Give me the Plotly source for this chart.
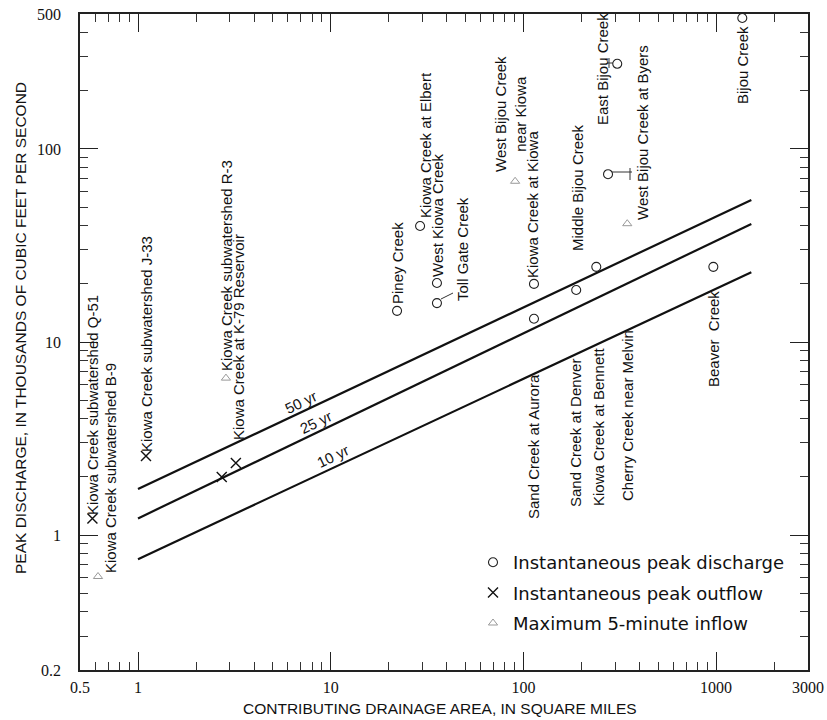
import math
import plotly.graph_objects as go

# ---------------- data ----------------
# Instantaneous peak discharge (open circles)
discharge_area = [22.1, 35.6, 35.6, 29.1, 113.5, 113.5, 188, 239, 968, 275, 307, 1368]
discharge_peak = [14.5, 20.2, 15.9, 39.9, 20.0, 13.2, 18.6, 24.5, 24.5, 74, 276, 477]

# Instantaneous peak outflow (x)
outflow_area = [0.58, 1.10, 2.72, 3.22]
outflow_peak = [1.22, 2.57, 2.0, 2.36]

# Maximum 5-minute inflow (triangles)
inflow_area = [0.62, 2.86, 90.6, 346]
inflow_peak = [0.61, 6.5, 68, 41]

# Regional flood-frequency lines
line_area = [1, 1524]
line_50yr = [1.73, 54.4]
line_25yr = [1.22, 40.9]
line_10yr = [0.75, 23.0]

x_tick_vals = [0.5, 1, 10, 100, 1000, 3000]
x_tick_text = ["0.5", "1", "10", "100", "1000", "3000"]
y_tick_vals = [0.2, 1, 10, 100, 500]
y_tick_text = ["0.2", "1", "10", "100", "500"]

station_labels = [
    "Kiowa Creek subwatershed Q-51", "Kiowa Creek subwatershed B-9",
    "Kiowa Creek subwatershed J-33", "Kiowa Creek subwatershed R-3",
    "Kiowa Creek at K-79 Reservoir", "Piney Creek", "West Kiowa Creek",
    "Kiowa Creek at Elbert", "Toll Gate Creek", "West Bijou Creek<br>near Kiowa",
    "Kiowa Creek at Kiowa", "Middle Bijou Creek", "East Bijou Creek",
    "West Bijou Creek at Byers", "Bijou Creek", "Sand Creek at Aurora",
    "Sand Creek at Denver", "Kiowa Creek at Bennett", "Cherry Creek near Melvin",
    "Beaver  Creek",
]
curve_labels = ["50 yr", "25 yr", "10 yr"]

# ---------------- layout helpers (pixel -> paper) ----------------
W, H = 827, 720
ML, MR, MT, MB = 80, 19, 14, 50
PW, PH = W - ML - MR, H - MT - MB


def paper(px, py):
    return (px - ML) / PW, (H - MB - py) / PH


label_pos = [
    (93, 405), (110, 468), (146, 344), (226, 266), (238, 337),
    (397, 263), (437, 215), (425, 145), (462, 249), (510, 114),
    (532, 205), (577, 188), (602, 69), (642, 133), (742, 65),
    (533, 447), (575, 433), (598, 427), (627, 416), (713, 339),
]
curve_label_pos = [(300, 402), (315, 422), (332, 456)]

LABEL_FONT = dict(family="Liberation Sans, Arial, sans-serif", size=15, color="#111")

fig = go.Figure()

for name, ys in (("50 yr", line_50yr), ("25 yr", line_25yr), ("10 yr", line_10yr)):
    fig.add_trace(go.Scatter(x=line_area, y=ys, mode="lines", showlegend=False,
                             line=dict(color="#111", width=2.2), hoverinfo="skip", name=name))

fig.add_trace(go.Scatter(x=discharge_area, y=discharge_peak, mode="markers",
                         name="Instantaneous peak discharge", legendgroup="a",
                         marker=dict(symbol="circle-open", size=9, color="#222",
                                     line=dict(width=1.1))))
fig.add_trace(go.Scatter(x=outflow_area, y=outflow_peak, mode="markers",
                         name="Instantaneous peak outflow", legendgroup="b",
                         marker=dict(symbol="x-thin-open", size=10, color="#111",
                                     line=dict(width=1.4))))
fig.add_trace(go.Scatter(x=inflow_area, y=inflow_peak, mode="markers",
                         name="Maximum 5-minute inflow", legendgroup="c",
                         marker=dict(symbol="triangle-up-open", size=8, color="#999",
                                     line=dict(width=1))))

annotations = []
for txt, (px, py) in zip(station_labels, label_pos):
    ax, ay = paper(px, py)
    annotations.append(dict(x=ax, y=ay, xref="paper", yref="paper", text=txt,
                            textangle=-90, showarrow=False, font=LABEL_FONT,
                            xanchor="center", yanchor="middle"))
for txt, (px, py) in zip(curve_labels, curve_label_pos):
    ax, ay = paper(px, py)
    annotations.append(dict(x=ax, y=ay, xref="paper", yref="paper", text=txt,
                            textangle=-25.5, showarrow=False, font=LABEL_FONT,
                            xanchor="center", yanchor="middle"))

TITLE_FONT = dict(family="Liberation Sans, Arial, sans-serif", size=15.5, color="#111")
ax_, ay_ = paper(440, 708)
annotations.append(dict(x=ax_, y=ay_, xref="paper", yref="paper",
                        text="CONTRIBUTING DRAINAGE AREA, IN SQUARE MILES",
                        showarrow=False, font=TITLE_FONT, xanchor="center", yanchor="middle"))
ax_, ay_ = paper(20, 328)
annotations.append(dict(x=ax_, y=ay_, xref="paper", yref="paper",
                        text="PEAK DISCHARGE, IN THOUSANDS OF CUBIC FEET PER SECOND",
                        textangle=-90, showarrow=False, font=TITLE_FONT,
                        xanchor="center", yanchor="middle"))

# leader lines
shapes = []
for (x0, y0, x1, y1) in [(441, 299, 453, 293), (607, 63, 613, 63), (609, 58, 609, 68),
                         (612, 172, 632, 172), (630, 168, 630, 180)]:
    a0, b0 = paper(x0, y0)
    a1, b1 = paper(x1, y1)
    shapes.append(dict(type="line", xref="paper", yref="paper", x0=a0, y0=b0, x1=a1, y1=b1,
                       line=dict(color="#333", width=1)))

x_minor = [0.6, 0.7, 0.8, 0.9] + [i for i in range(2, 10)] + [i * 10 for i in range(2, 10)] \
    + [i * 100 for i in range(2, 10)] + [2000]
y_minor = [0.3, 0.4, 0.5, 0.6, 0.7, 0.8, 0.9] + [i for i in range(2, 10)] \
    + [i * 10 for i in range(2, 10)] + [200, 300, 400]

TICK_FONT = dict(family="Liberation Serif, Times New Roman, serif", size=16, color="#111")

lx, ly = paper(473, 544)
fig.update_layout(
    width=W, height=H,
    margin=dict(l=ML, r=MR, t=MT, b=MB),
    paper_bgcolor="white", plot_bgcolor="white",
    showlegend=True,
    legend=dict(x=lx, y=ly, xanchor="left", yanchor="top",
                font=dict(family="DejaVu Sans, sans-serif", size=18, color="#111"),
                traceorder="grouped", tracegroupgap=4, bgcolor="rgba(0,0,0,0)",
                itemwidth=30),
    annotations=annotations,
    shapes=shapes,
    xaxis=dict(type="log", range=[math.log10(0.5), math.log10(3000)], automargin=False,
               tickvals=x_tick_vals, ticktext=x_tick_text, ticks="inside", ticklen=18,
               tickwidth=1.2, tickcolor="#222", showline=True, linecolor="#222",
               linewidth=1.5, mirror="ticks", showgrid=False, zeroline=False,
               tickfont=TICK_FONT, ticklabelstandoff=2,
               minor=dict(tickvals=x_minor, ticks="inside", ticklen=8, tickwidth=1,
                          tickcolor="#333", showgrid=False)),
    yaxis=dict(type="log", range=[math.log10(0.2), math.log10(500)], automargin=False,
               tickvals=y_tick_vals, ticktext=y_tick_text, ticks="inside", ticklen=18,
               tickwidth=1.2, tickcolor="#222", showline=True, linecolor="#222",
               linewidth=1.5, mirror="ticks", showgrid=False, zeroline=False,
               tickfont=TICK_FONT, ticklabelstandoff=14,
               minor=dict(tickvals=y_minor, ticks="inside", ticklen=8, tickwidth=1,
                          tickcolor="#333", showgrid=False)),
)

fig.write_html(
    "out.html",
    config={"displayModeBar": False},
    post_script="document.body.style.margin='0';document.body.style.overflow='hidden';",
)
